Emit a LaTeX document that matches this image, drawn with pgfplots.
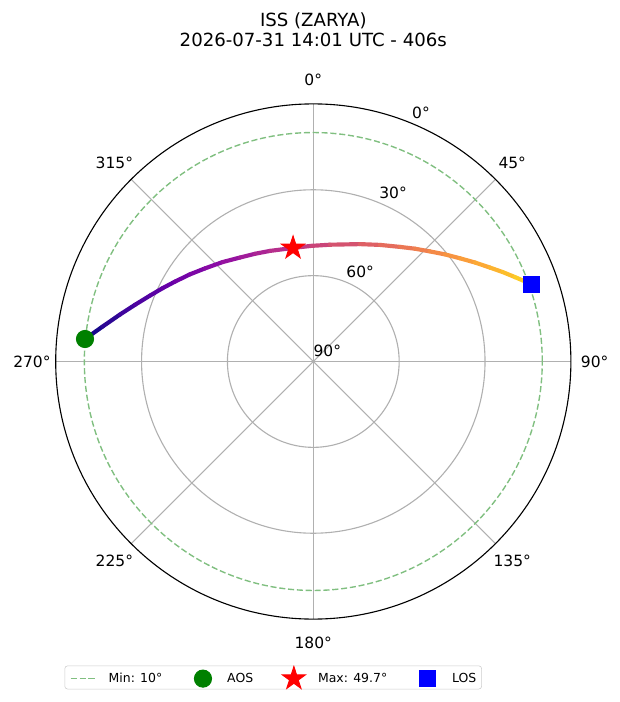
\documentclass[border=0pt]{standalone}
\usepackage{fontspec}
\setmainfont{DejaVu Sans}
\usepackage{pgfplots}
\pgfplotsset{compat=1.18}

\definecolor{gridgray}{RGB}{176,176,176}
\definecolor{mingreen}{RGB}{128,191,128}
\definecolor{aosgreen}{RGB}{0,128,0}

% filled five-pointed star, like matplotlib's '*'
\pgfdeclareplotmark{fstar}{%
  \pgfpathmoveto{\pgfpointpolar{90}{\pgfplotmarksize}}%
  \pgfpathlineto{\pgfpointpolar{126}{0.382\pgfplotmarksize}}%
  \pgfpathlineto{\pgfpointpolar{162}{\pgfplotmarksize}}%
  \pgfpathlineto{\pgfpointpolar{198}{0.382\pgfplotmarksize}}%
  \pgfpathlineto{\pgfpointpolar{234}{\pgfplotmarksize}}%
  \pgfpathlineto{\pgfpointpolar{270}{0.382\pgfplotmarksize}}%
  \pgfpathlineto{\pgfpointpolar{306}{\pgfplotmarksize}}%
  \pgfpathlineto{\pgfpointpolar{342}{0.382\pgfplotmarksize}}%
  \pgfpathlineto{\pgfpointpolar{18}{\pgfplotmarksize}}%
  \pgfpathlineto{\pgfpointpolar{54}{0.382\pgfplotmarksize}}%
  \pgfpathclose
  \pgfusepathqfillstroke}

% azimuth (clockwise from north) / elevation -> sky plot position, r = 90 - el
\pgfplotsset{/pgfplots/table/sky/.style={
  /pgfplots/table/x expr={(90-\thisrow{el})*sin(\thisrow{az})},
  /pgfplots/table/y expr={(90-\thisrow{el})*cos(\thisrow{az})}}}

\newcommand{\tickfont}{\fontsize{11.2}{13}\selectfont}

\begin{document}
\begin{tikzpicture}
\useasboundingbox (-3.133in,-3.405in) rectangle (3.067in,3.615in);
\begin{axis}[
  at={(0,0)}, anchor=center,
  scale only axis, width=5.152in, height=5.152in,
  xmin=-90, xmax=90, ymin=-90, ymax=90,
  hide axis, clip=false,
  colormap={plasma}{rgb255=(13,8,135) rgb255=(65,4,157) rgb255=(106,0,168)
    rgb255=(143,13,164) rgb255=(177,42,144) rgb255=(204,71,120)
    rgb255=(225,100,98) rgb255=(242,132,75) rgb255=(252,166,54)
    rgb255=(252,206,37) rgb255=(240,249,33)},
  point meta min=0, point meta max=1.1,
  legend columns=-1,
  legend image code/.code={%
    \pgfpathrectangle{\pgfqpoint{0pt}{-2pt}}{\pgfqpoint{18.8pt}{4pt}}%
    \pgfusepath{discard}%
    \draw[mark repeat=2,mark phase=2,#1]
    plot coordinates {(0pt,0pt) (9.4pt,0pt) (18.8pt,0pt)};},
  legend style={at={(axis description cs:0.4222,-0.1133)}, anchor=center,
    font=\fontsize{9}{10}\selectfont, draw=black!20, rounded corners=2pt,
    inner xsep=3.8pt, inner ysep=0.5pt,
    nodes={inner sep=0pt},
    /tikz/every odd column/.append style={column sep=8.1pt},
    /tikz/every even column/.append style={column sep=20pt}},
]

% grid
\draw[gridgray, line width=0.8pt] (axis cs:0,0) circle[radius=30];
\draw[gridgray, line width=0.8pt] (axis cs:0,0) circle[radius=60];
\pgfplotsinvokeforeach{0,45,90,135,180,225,270,315}{
  \draw[gridgray, line width=0.8pt] (axis cs:0,0) -- (axis cs:{90*sin(#1)},{90*cos(#1)});
}

% minimum elevation 10 deg
\draw[mingreen, line width=1pt, dash pattern=on 4.4pt off 2pt] (axis cs:0,0) circle[radius=80];
\addlegendimage{mingreen, line width=1pt, dash pattern=on 4.4pt off 2pt}
\addlegendentry{Min: 10°}

% pass track, coloured by time
\addplot[mesh, forget plot, line width=3pt, line cap=round, point meta=\thisrow{t}]
  table[sky] {
az     el     t
275.63 9.85   0.000
279.40 15.35  0.045
283.67 20.50  0.090
287.64 24.63  0.128
291.98 28.47  0.165
295.92 31.42  0.195
300.02 34.20  0.225
305.27 37.24  0.260
310.69 40.10  0.294
317.59 42.96  0.333
324.82 45.55  0.371
331.58 47.20  0.404
338.62 48.50  0.436
349.89 49.70  0.485
359.11 49.59  0.524
8.14   48.78  0.563
21.69  45.86  0.626
29.77  43.07  0.668
37.11  39.79  0.711
42.03  36.94  0.742
46.67  33.95  0.774
50.88  30.69  0.807
54.87  27.33  0.839
58.52  23.76  0.872
62.01  20.09  0.905
64.68  16.87  0.933
67.29  13.61  0.962
70.53  9.07   1.000
};

\addplot[only marks, mark=*, mark size=6.2pt, color=aosgreen, line width=0.7pt]
  table[sky] {
az     el
275.63 9.85
};
\addlegendentry{AOS}

\addplot[only marks, mark=fstar, mark size=8.7pt, color=red, line width=0.7pt]
  table[sky] {
az     el
349.89 49.70
};
\addlegendentry{Max: 49.7°}

\addplot[only marks, mark=square*, mark size=5.8pt, color=blue, line width=0.7pt]
  table[sky] {
az     el
70.53  9.07
};
\addlegendentry{LOS}

% outer frame
\draw[black, line width=0.8pt] (axis cs:0,0) circle[radius=90];

% azimuth labels
\pgfplotsinvokeforeach{0,45,90,135,180,225,270,315}{
  \node[font=\tickfont, anchor=center, inner sep=0pt]
    at (axis cs:{98.3*sin(#1)},{98.3*cos(#1)}) {#1°};
}

% elevation labels
\node[font=\tickfont, anchor=south west, inner sep=0pt, yshift=3pt] at (axis cs:{90*sin(22.5)},{90*cos(22.5)}) {0°};
\node[font=\tickfont, anchor=south west, inner sep=0pt, yshift=3pt] at (axis cs:{60*sin(22.5)},{60*cos(22.5)}) {30°};
\node[font=\tickfont, anchor=south west, inner sep=0pt, yshift=3pt] at (axis cs:{30*sin(22.5)},{30*cos(22.5)}) {60°};
\node[font=\tickfont, anchor=south west, inner sep=0pt, yshift=3pt] at (axis cs:0,0) {90°};

% title
\node[font=\fontsize{13.1}{15}\selectfont, anchor=base] at (axis cs:0,117.2) {ISS (ZARYA)};
\node[font=\fontsize{13.1}{15}\selectfont, anchor=base] at (axis cs:0,110.0) {2026-07-31 14:01 UTC - 406s};

\end{axis}
\end{tikzpicture}
\end{document}
